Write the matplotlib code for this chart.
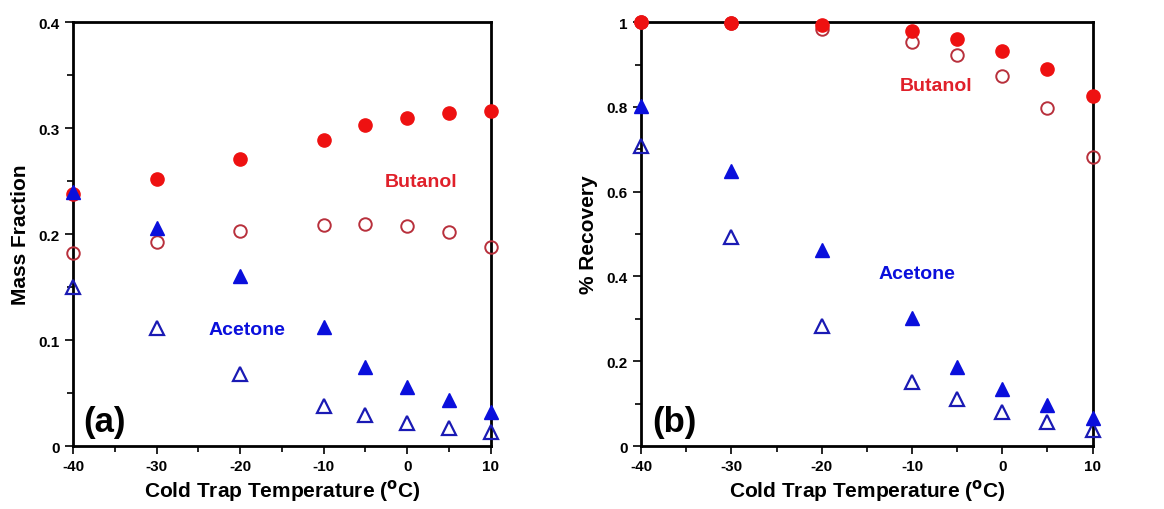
import matplotlib.pyplot as plt
from matplotlib.ticker import MultipleLocator

plt.rcParams['font.family'] = ['Liberation Sans', 'DejaVu Sans']
plt.rcParams['font.weight'] = 'bold'
plt.rcParams['axes.unicode_minus'] = False

temps = [-40, -30, -20, -10, -5, 0, 5, 10]

# (a) mass fraction
mf_butanol_filled = [0.238, 0.252, 0.271, 0.289, 0.303, 0.310, 0.314, 0.316]
mf_butanol_open = [0.182, 0.193, 0.203, 0.209, 0.210, 0.208, 0.202, 0.188]
mf_acetone_filled = [0.240, 0.206, 0.160, 0.112, 0.075, 0.056, 0.043, 0.032]
mf_acetone_open = [0.150, 0.111, 0.068, 0.038, 0.029, 0.022, 0.017, 0.013]

# (b) recovery
rec_butanol_filled = [1.000, 0.998, 0.994, 0.979, 0.960, 0.932, 0.890, 0.825]
rec_butanol_open = [1.000, 0.997, 0.984, 0.954, 0.923, 0.873, 0.797, 0.682]
rec_acetone_filled = [0.802, 0.648, 0.463, 0.301, 0.187, 0.134, 0.096, 0.067]
rec_acetone_open = [0.709, 0.494, 0.283, 0.150, 0.110, 0.081, 0.057, 0.038]

red = '#ee1111'
red_edge = '#b8303c'
blue = '#0a0fdc'
blue_edge = '#1a1ab4'

fig = plt.figure(figsize=(11.64, 5.10), dpi=100)
ax1 = fig.add_axes([0.0627, 0.1235, 0.359, 0.831])
ax2 = fig.add_axes([0.5507, 0.1235, 0.388, 0.831])


def draw(ax, bf, bo, af, ao):
    ax.plot(temps, bo, 'o', ms=9, mfc='none', mec=red_edge, mew=1.4, clip_on=False, zorder=3)
    ax.plot(temps, bf, 'o', ms=9.5, color=red, clip_on=False, zorder=4)
    ax.plot(temps, ao, '^', ms=10, mfc='none', mec=blue_edge, mew=1.6, clip_on=False, zorder=3)
    ax.plot(temps, af, '^', ms=10.5, color=blue, clip_on=False, zorder=4)
    ax.set_xlim(-40, 10)
    ax.xaxis.set_major_locator(MultipleLocator(10))
    ax.xaxis.set_minor_locator(MultipleLocator(5))
    ax.tick_params(which='both', direction='out', width=1.2, labelsize=11, top=False, right=False)
    ax.tick_params(which='major', length=6)
    ax.tick_params(which='minor', length=4)
    for s in ax.spines.values():
        s.set_linewidth(2)
    ax.set_xlabel('Cold Trap Temperature ($^{\\mathbf{o}}$C)', fontsize=15, fontweight='bold', labelpad=3)
    for lab in ax.get_xticklabels():
        lab.set_fontweight('bold')


draw(ax1, mf_butanol_filled, mf_butanol_open, mf_acetone_filled, mf_acetone_open)
ax1.set_ylim(0, 0.4)
ax1.set_yticks([0, 0.1, 0.2, 0.3, 0.4])
ax1.yaxis.set_minor_locator(MultipleLocator(0.05))
ax1.set_yticklabels(['0', '0.1', '0.2', '0.3', '0.4'], fontweight='bold')
ax1.set_ylabel('Mass Fraction', fontsize=15, fontweight='bold', labelpad=6)
ax1.text(1.6, 0.25, 'Butanol', color='#e0202a', fontsize=14, fontweight='bold', ha='center', va='center')
ax1.text(-19.2, 0.110, 'Acetone', color=blue, fontsize=14, fontweight='bold', ha='center', va='center')
ax1.text(0.025, 0.02, '(a)', transform=ax1.transAxes, fontsize=25, fontweight='bold', ha='left', va='bottom')

draw(ax2, rec_butanol_filled, rec_butanol_open, rec_acetone_filled, rec_acetone_open)
ax2.set_ylim(0, 1)
ax2.set_yticks([0, 0.2, 0.4, 0.6, 0.8, 1.0])
ax2.yaxis.set_minor_locator(MultipleLocator(0.1))
ax2.set_yticklabels(['0', '0.2', '0.4', '0.6', '0.8', '1'], fontweight='bold')
ax2.set_ylabel('% Recovery', fontsize=15, fontweight='bold', labelpad=6)
ax2.text(-7.3, 0.851, 'Butanol', color='#e0202a', fontsize=14, fontweight='bold', ha='center', va='center')
ax2.text(-9.4, 0.408, 'Acetone', color=blue, fontsize=14, fontweight='bold', ha='center', va='center')
ax2.text(0.025, 0.02, '(b)', transform=ax2.transAxes, fontsize=25, fontweight='bold', ha='left', va='bottom')

fig.savefig('out.png', dpi=100)
